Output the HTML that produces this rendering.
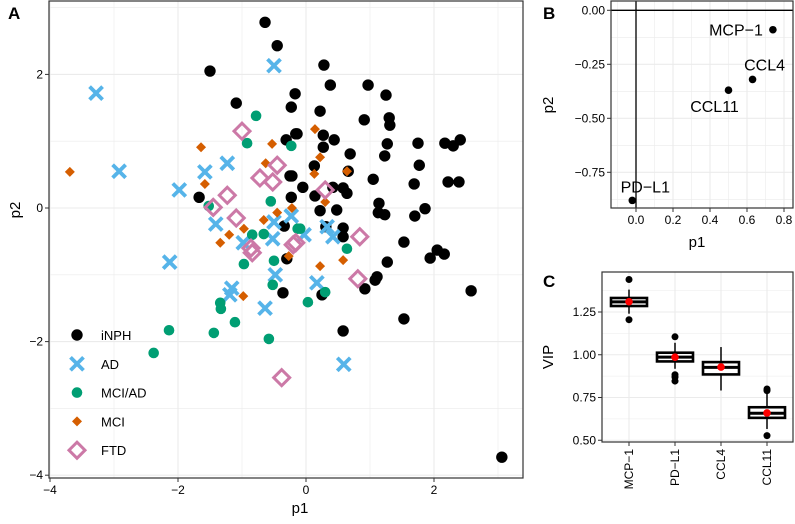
<!DOCTYPE html>
<html><head><meta charset="utf-8"><style>
html,body{margin:0;padding:0;background:#fff;}
svg{display:block;font-family:"Liberation Sans",Arial,sans-serif;}
</style></head><body>
<svg id="s" width="795" height="524" viewBox="0 0 795 524" xmlns="http://www.w3.org/2000/svg"></svg>
<script>
// ---- Panel A data ----
const inphX=[-0.64,-0.45,-1.50,-1.09,-0.17,-0.23,-0.31,-0.16,-0.25,-0.23,-1.67,-0.34,0.28,0.38,0.97,1.25,0.22,0.91,1.30,1.31,-0.14,0.27,0.27,0.44,1.27,1.75,2.17,2.30,2.41,0.69,1.23,1.77,0.13,0.66,1.05,-0.22,2.22,2.39,1.69,-0.05,0.42,0.58,0.64,0.14,0.22,0.48,1.14,1.13,1.23,1.70,1.86,0.31,0.58,0.58,1.53,2.05,1.94,2.16,1.27,1.11,1.08,0.92,0.25,2.58,1.53,0.58,3.06,-0.30,-0.36];
const inphY=[2.78,2.43,2.05,1.57,1.71,1.51,1.02,1.11,0.48,0.16,0.16,-0.27,2.14,1.84,1.84,1.69,1.45,1.32,1.35,1.24,1.11,1.09,0.91,1.02,0.96,0.97,0.97,0.93,1.02,0.81,0.78,0.64,0.63,0.55,0.43,0.48,0.39,0.39,0.36,0.31,0.31,0.30,0.22,0.18,-0.04,-0.03,0.07,-0.07,-0.10,-0.12,-0.01,-0.28,-0.30,-0.43,-0.51,-0.63,-0.75,-0.69,-0.81,-1.03,-1.08,-1.21,-1.30,-1.24,-1.66,-1.84,-3.73,-0.76,-1.27];
const adX=[-0.50,-3.28,-2.92,-1.98,-1.58,-1.23,-1.41,-0.50,-0.52,-0.23,-0.98,-0.03,0.42,0.33,-2.13,-1.16,-1.19,-0.64,-0.48,0.17,0.59];
const adY=[2.13,1.72,0.55,0.27,0.54,0.67,-0.24,-0.21,-0.46,-0.12,-0.52,-0.40,-0.43,-0.28,-0.81,-1.20,-1.30,-1.50,-1.00,-1.12,-2.34];
const mciadX=[-0.78,-0.92,-0.23,-0.55,-1.52,-0.84,-0.66,-0.13,-0.97,-0.50,-0.52,-1.34,-1.33,-1.11,-2.14,-1.44,-0.58,-2.38,0.64,0.30,0.03,-0.09];
const mciadY=[1.38,0.97,0.93,0.10,0.03,-0.40,-0.39,-0.31,-0.84,-0.79,-1.15,-1.42,-1.51,-1.71,-1.83,-1.87,-1.96,-2.17,-0.61,-1.26,-1.41,-0.31];
const mciX=[-3.69,-1.64,-1.58,-0.53,-0.63,-0.45,-0.22,-0.66,-0.97,-1.20,-1.34,0.14,0.22,0.13,0.64,0.30,0.22,0.58,-0.98,-0.27];
const mciY=[0.54,0.91,0.36,0.96,0.67,-0.07,0.00,-0.18,-0.31,-0.40,-0.52,1.18,0.76,0.51,0.55,0.09,-0.87,-0.78,-1.32,-0.72];
const ftdX=[-1.00,-0.45,-0.72,-0.52,-1.23,-1.45,-1.09,-0.20,-0.86,0.30,-0.16,0.84,-0.84,-0.38,0.81];
const ftdY=[1.15,0.64,0.45,0.39,0.19,0.01,-0.15,-0.55,-0.60,0.27,-0.52,-0.43,-0.67,-2.54,-1.06];
const aXTicks=[-4,-2,0,2];
const aYTicks=[2,0,-2,-4];
const legendLabels=["iNPH","AD","MCI/AD","MCI","FTD"];
// ---- Panel B data ----
const loadNames=["MCP\u22121","CCL4","CCL11","PD\u2212L1"];
const loadP1=[0.74,0.63,0.50,-0.02];
const loadP2=[-0.09,-0.32,-0.37,-0.88];
const bXTicks=[0.0,0.2,0.4,0.6,0.8];
const bYTicks=[0.00,-0.25,-0.50,-0.75];
// ---- Panel C data ----
const vipCats=["MCP\u22121","PD\u2212L1","CCL4","CCL11"];
const vipQ1=[1.285,0.961,0.885,0.631];
const vipMed=[1.309,0.986,0.926,0.658];
const vipQ3=[1.332,1.012,0.957,0.693];
const vipLo=[1.24,0.918,0.791,0.566];
const vipHi=[1.381,1.07,1.045,0.775];
const vipMean=[1.31,0.986,0.928,0.66];
const vipOut=[[1.44,1.205],[1.105,0.883,0.869,0.846],[],[0.80,0.79,0.527]];
const cYTicks=[0.50,0.75,1.00,1.25];

const NS="http://www.w3.org/2000/svg";
const svg=document.getElementById('s');
function mk(tag,attrs,parent){const e=document.createElementNS(NS,tag);for(const k in attrs)e.setAttribute(k,attrs[k]);(parent||svg).appendChild(e);return e;}
function txt(s,attrs,parent){const e=mk('text',attrs,parent);e.textContent=s;return e;}

// ===== Panel A =====
const A={l:49,r:523,t:1,b:478};
const ax=v=>306+v*64, ay=v=>208-v*66.8;
const gA=mk('g',{});


mk('rect',{x:A.l,y:A.t,width:A.r-A.l,height:A.b-A.t,fill:'#fff'},gA);
for(let v=-4;v<=3;v++){const x=ax(v);mk('line',{x1:x,x2:x,y1:A.t,y2:A.b,stroke:'#ebebeb','stroke-width':v%2===0?1.1:0.6},gA);}
for(let v=-4;v<=3;v++){const y=ay(v);mk('line',{x1:A.l,x2:A.r,y1:y,y2:y,stroke:'#ebebeb','stroke-width':v%2===0?1.1:0.6},gA);}
aXTicks.forEach(v=>{mk('line',{x1:ax(v),x2:ax(v),y1:A.b,y2:A.b+4,stroke:'#333'},gA);
 const t=txt(v<0?'\u2212'+(-v):String(v),{x:ax(v),y:A.b+16,'text-anchor':'middle','font-size':12,fill:'#000'},gA);
 });
aYTicks.forEach(v=>{mk('line',{x1:A.l-4,x2:A.l,y1:ay(v),y2:ay(v),stroke:'#333'},gA);
 const t=txt(v<0?'\u2212'+(-v):String(v),{x:A.l-6,y:ay(v)+4,'text-anchor':'end','font-size':12,fill:'#000'},gA);
 });
function circle(g,x,y,r,c,n){const e=mk('circle',{cx:x,cy:y,r:r,fill:c},g);return e;}
function cross(g,x,y,h,c,n){const e=mk('path',{d:`M${x-h},${y-h}L${x+h},${y+h}M${x-h},${y+h}L${x+h},${y-h}`,stroke:c,'stroke-width':3.8,fill:'none'},g);return e;}
function diamond(g,x,y,h,c,n,open){const e=mk('path',{d:`M${x},${y-h}L${x+h},${y}L${x},${y+h}L${x-h},${y}Z`,fill:open?'none':c,stroke:open?c:'none','stroke-width':3},g);return e;}
const pts=mk('g',{},gA);
inphX.forEach((v,i)=>circle(pts,ax(v),ay(inphY[i]),5.7,'#000','point-inph'));
adX.forEach((v,i)=>cross(pts,ax(v),ay(adY[i]),6.5,'#56B4E9','point-ad'));
mciadX.forEach((v,i)=>circle(pts,ax(v),ay(mciadY[i]),5.3,'#009E73','point-mci-ad'));
mciX.forEach((v,i)=>diamond(pts,ax(v),ay(mciY[i]),5,'#D55E00','point-mci',false));
ftdX.forEach((v,i)=>diamond(pts,ax(v),ay(ftdY[i]),8,'#CC79A7','point-ftd',true));
mk('rect',{x:A.l,y:A.t,width:A.r-A.l,height:A.b-A.t,fill:'none',stroke:'#333','stroke-width':1.2},gA);
// legend
const lg=mk('g',{},gA);


legendLabels.forEach((s,i)=>{const y=335+i*28.8,x=77;
 if(i===0)circle(lg,x,y,5.7,'#000','legend-key-inph');
 if(i===1)cross(lg,x,y,6.5,'#56B4E9','legend-key-ad');
 if(i===2)circle(lg,x,y,5.3,'#009E73','legend-key-mci-ad');
 if(i===3)diamond(lg,x,y,5,'#D55E00','legend-key-mci',false);
 if(i===4)diamond(lg,x,y,8,'#CC79A7','legend-key-ftd',true);
 const t=txt(s,{x:101,y:y+5,'font-size':13,fill:'#000'},lg);
 });
let t;
t=txt('p1',{x:300,y:513,'text-anchor':'middle','font-size':15},gA);
t=txt('p2',{x:0,y:0,'text-anchor':'middle','font-size':15,transform:'translate(20,210) rotate(-90)'},gA);
t=txt('A',{x:8,y:19,'font-size':17,'font-weight':'bold'},gA);

// ===== Panel B =====
const B={l:611,r:793,t:1,b:208};
const bx=v=>636+v*185, by=v=>10.3-v*216;
const gB=mk('g',{});


for(let v=-0.1;v<=0.9;v+=0.1){const x=bx(v);if(x>B.l&&x<B.r)mk('line',{x1:x,x2:x,y1:B.t,y2:B.b,stroke:'#ebebeb','stroke-width':Math.round(v*10)%2===0?1.1:0.6},gB);}
for(let k=0;k<=8;k++){const v=-k*0.125;const y=by(v);if(y>B.t&&y<B.b)mk('line',{x1:B.l,x2:B.r,y1:y,y2:y,stroke:'#ebebeb','stroke-width':k%2===0?1.1:0.6},gB);}
mk('line',{x1:bx(0),x2:bx(0),y1:B.t,y2:B.b,stroke:'#000','stroke-width':1.3},gB);
mk('line',{x1:B.l,x2:B.r,y1:by(0),y2:by(0),stroke:'#000','stroke-width':1.3},gB);
bXTicks.forEach(v=>{mk('line',{x1:bx(v),x2:bx(v),y1:B.b,y2:B.b+4,stroke:'#333'},gB);
 const t=txt(v.toFixed(1),{x:bx(v),y:B.b+16,'text-anchor':'middle','font-size':12},gB);});
bYTicks.forEach(v=>{mk('line',{x1:B.l-4,x2:B.l,y1:by(v),y2:by(v),stroke:'#333'},gB);
 const t=txt((v<0?'\u2212':'')+Math.abs(v).toFixed(2),{x:B.l-6,y:by(v)+4,'text-anchor':'end','font-size':12},gB);});
const lblOff=[[-10,6,'end'],[12,-9,'middle'],[-14,22,'middle'],[13,-8,'middle']];
loadP1.forEach((v,i)=>{circle(gB,bx(v),by(loadP2[i]),3.8,'#000','loading-point');
 const o=lblOff[i];const t=txt(loadNames[i],{x:bx(v)+o[0],y:by(loadP2[i])+o[1],'text-anchor':o[2],'font-size':16},gB);
 });
mk('rect',{x:B.l,y:B.t,width:B.r-B.l,height:B.b-B.t,fill:'none',stroke:'#333','stroke-width':1.2},gB);
t=txt('p1',{x:697,y:247,'text-anchor':'middle','font-size':15},gB);
t=txt('p2',{x:0,y:0,'text-anchor':'middle','font-size':15,transform:'translate(553,105) rotate(-90)'},gB);
t=txt('B',{x:543,y:19,'font-size':17,'font-weight':'bold'},gB);

// ===== Panel C =====
const C={l:602,r:793,t:272,b:442};
const cy=v=>312-(v-1.25)*171;
const cx=i=>629+i*46;
const gC=mk('g',{});


for(let k=0;k<9;k++){const v=0.5+k*0.125,y=cy(v);if(y>C.t&&y<C.b)mk('line',{x1:C.l,x2:C.r,y1:y,y2:y,stroke:'#ebebeb','stroke-width':k%2===0?1.1:0.6},gC);}
vipCats.forEach((c,i)=>mk('line',{x1:cx(i),x2:cx(i),y1:C.t,y2:C.b,stroke:'#ebebeb','stroke-width':1.1},gC));
cYTicks.forEach(v=>{mk('line',{x1:C.l-4,x2:C.l,y1:cy(v),y2:cy(v),stroke:'#333'},gC);
 const t=txt(v.toFixed(2),{x:C.l-6,y:cy(v)+4,'text-anchor':'end','font-size':12},gC);});
vipCats.forEach((c,i)=>{const x=cx(i),w=36;
 mk('line',{x1:x,x2:x,y1:cy(vipHi[i]),y2:cy(vipLo[i]),stroke:'#000','stroke-width':1.5},gC);
 const b=mk('rect',{x:x-w/2,y:cy(vipQ3[i]),width:w,height:cy(vipQ1[i])-cy(vipQ3[i]),fill:'#fff',stroke:'#000','stroke-width':2.6},gC);
 
 mk('line',{x1:x-w/2,x2:x+w/2,y1:cy(vipMed[i]),y2:cy(vipMed[i]),stroke:'#000','stroke-width':3},gC);
 vipOut[i].forEach(o=>circle(gC,x,cy(o),3.5,'#000','vip-outlier'));
 circle(gC,x,cy(vipMean[i]),3.8,'#ff0000','vip-mean');
 mk('line',{x1:x,x2:x,y1:C.b,y2:C.b+4,stroke:'#333'},gC);
 const t=txt(c,{x:0,y:0,'text-anchor':'end','font-size':12,transform:`translate(${x+4},${C.b+7}) rotate(-90)`},gC);
 });
mk('rect',{x:C.l,y:C.t,width:C.r-C.l,height:C.b-C.t,fill:'none',stroke:'#333','stroke-width':1.2},gC);
t=txt('VIP',{x:0,y:0,'text-anchor':'middle','font-size':15,transform:'translate(553,357) rotate(-90)'},gC);
t=txt('C',{x:543,y:287,'font-size':17,'font-weight':'bold'},gC);
</script>
</body></html>
